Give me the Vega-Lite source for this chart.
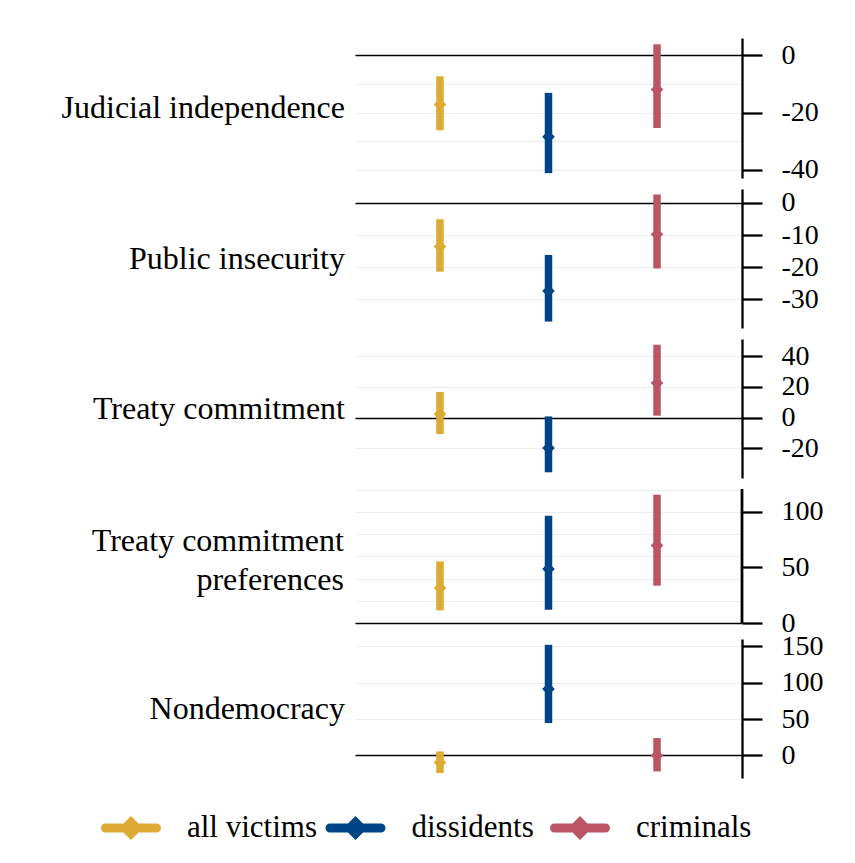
{
  "$schema": "https://vega.github.io/schema/vega-lite/v6.json",
  "background": "white",
  "padding": {"left": 61, "top": 38, "right": 5, "bottom": 0},
  "bounds": "flush",
  "spacing": 11,
  "data": {
    "values": [
      {"panel": "Judicial independence", "group": "all victims", "est": -17.2, "lo": -26.2, "hi": -7.3},
      {"panel": "Judicial independence", "group": "dissidents", "est": -28.5, "lo": -41.2, "hi": -13.1},
      {"panel": "Judicial independence", "group": "criminals", "est": -11.9, "lo": -25.4, "hi": 3.9},
      {"panel": "Public insecurity", "group": "all victims", "est": -13.6, "lo": -21.4, "hi": -5.1},
      {"panel": "Public insecurity", "group": "dissidents", "est": -27.4, "lo": -36.9, "hi": -16.2},
      {"panel": "Public insecurity", "group": "criminals", "est": -9.8, "lo": -20.4, "hi": 2.6},
      {"panel": "Treaty commitment", "group": "all victims", "est": 2.4, "lo": -10.6, "hi": 16.7},
      {"panel": "Treaty commitment", "group": "dissidents", "est": -19.7, "lo": -35.5, "hi": 0.8},
      {"panel": "Treaty commitment", "group": "criminals", "est": 22.5, "lo": 1.3, "hi": 47.4},
      {"panel": "Treaty commitment preferences", "group": "all victims", "est": 31.5, "lo": 11.4, "hi": 55.5},
      {"panel": "Treaty commitment preferences", "group": "dissidents", "est": 48.6, "lo": 12.0, "hi": 96.7},
      {"panel": "Treaty commitment preferences", "group": "criminals", "est": 69.9, "lo": 33.6, "hi": 115.6},
      {"panel": "Nondemocracy", "group": "all victims", "est": -9.6, "lo": -24.2, "hi": 5.5},
      {"panel": "Nondemocracy", "group": "dissidents", "est": 91.2, "lo": 44.5, "hi": 152},
      {"panel": "Nondemocracy", "group": "criminals", "est": 0, "lo": -22, "hi": 23.9}
    ]
  },
  "vconcat": [
    {
      "width": 387, "height": 140,
      "title": {"text": "Judicial independence", "orient": "left", "angle": 0, "align": "left", "baseline": "middle", "anchor": "middle", "frame": "group", "offset": 10},
      "transform": [{"filter": "datum.panel === 'Judicial independence'"}],
      "layer": [
        {
          "mark": {"type": "rule", "strokeWidth": 7.5},
          "encoding": {
            "x": {"field": "group", "type": "nominal", "sort": ["all victims", "dissidents", "criminals"], "scale": {"type": "point", "padding": 0.783}, "axis": null},
            "y": {"field": "lo", "type": "quantitative", "title": null},
            "y2": {"field": "hi"},
            "color": {"field": "group", "type": "nominal", "scale": {"domain": ["all victims", "dissidents", "criminals"], "range": ["#DDAA33", "#004488", "#BB5566"]}, "legend": null}
          }
        },
        {
          "mark": {"type": "point", "shape": "diamond", "filled": true, "size": 160, "opacity": 1},
          "encoding": {
            "x": {"field": "group", "type": "nominal", "sort": ["all victims", "dissidents", "criminals"], "axis": null},
            "y": {
              "field": "est", "type": "quantitative", "title": null,
              "scale": {"domain": [-42.9, 6.1], "nice": false, "zero": false},
              "axis": {
                "orient": "right", "title": null, "labelOverlap": false, "tickCount": 50,
                "values": [-40, -30, -20, -10, 0],
                "labelExpr": "datum.value % 20 === 0 ? toString(datum.value) : ''",
                "tickOpacity": {"condition": {"test": "datum.value % 20 !== 0", "value": 0}, "value": 1},
                "gridColor": {"condition": {"test": "datum.value === 0", "value": "black"}, "value": "#ececec"},
                "gridWidth": {"condition": {"test": "datum.value === 0", "value": 1.5}, "value": 1}
              }
            },
            "color": {"field": "group", "type": "nominal", "legend": null}
          }
        }
      ]
    },
    {
      "width": 387, "height": 139,
      "title": {"text": "Public insecurity", "orient": "left", "angle": 0, "align": "left", "baseline": "middle", "anchor": "middle", "frame": "group", "offset": 10},
      "transform": [{"filter": "datum.panel === 'Public insecurity'"}],
      "layer": [
        {
          "mark": {"type": "rule", "strokeWidth": 7.5},
          "encoding": {
            "x": {"field": "group", "type": "nominal", "sort": ["all victims", "dissidents", "criminals"], "scale": {"type": "point", "padding": 0.783}, "axis": null},
            "y": {"field": "lo", "type": "quantitative", "title": null},
            "y2": {"field": "hi"},
            "color": {"field": "group", "type": "nominal", "legend": null}
          }
        },
        {
          "mark": {"type": "point", "shape": "diamond", "filled": true, "size": 160, "opacity": 1},
          "encoding": {
            "x": {"field": "group", "type": "nominal", "sort": ["all victims", "dissidents", "criminals"], "axis": null},
            "y": {
              "field": "est", "type": "quantitative", "title": null,
              "scale": {"domain": [-38.9, 4.3], "nice": false, "zero": false},
              "axis": {
                "orient": "right", "title": null, "labelOverlap": false, "tickCount": 50,
                "values": [-30, -20, -10, 0],
                "labelExpr": "toString(datum.value)",
                "gridColor": {"condition": {"test": "datum.value === 0", "value": "black"}, "value": "#ececec"},
                "gridWidth": {"condition": {"test": "datum.value === 0", "value": 1.5}, "value": 1}
              }
            },
            "color": {"field": "group", "type": "nominal", "legend": null}
          }
        }
      ]
    },
    {
      "width": 387, "height": 139,
      "title": {"text": "Treaty commitment", "orient": "left", "angle": 0, "align": "left", "baseline": "middle", "anchor": "middle", "frame": "group", "offset": 10},
      "transform": [{"filter": "datum.panel === 'Treaty commitment'"}],
      "layer": [
        {
          "mark": {"type": "rule", "strokeWidth": 7.5},
          "encoding": {
            "x": {"field": "group", "type": "nominal", "sort": ["all victims", "dissidents", "criminals"], "scale": {"type": "point", "padding": 0.783}, "axis": null},
            "y": {"field": "lo", "type": "quantitative", "title": null},
            "y2": {"field": "hi"},
            "color": {"field": "group", "type": "nominal", "legend": null}
          }
        },
        {
          "mark": {"type": "point", "shape": "diamond", "filled": true, "size": 160, "opacity": 1},
          "encoding": {
            "x": {"field": "group", "type": "nominal", "sort": ["all victims", "dissidents", "criminals"], "axis": null},
            "y": {
              "field": "est", "type": "quantitative", "title": null,
              "scale": {"domain": [-39.2, 51.1], "nice": false, "zero": false},
              "axis": {
                "orient": "right", "title": null, "labelOverlap": false, "tickCount": 50,
                "values": [-20, 0, 20, 40],
                "labelExpr": "toString(datum.value)",
                "gridColor": {"condition": {"test": "datum.value === 0", "value": "black"}, "value": "#ececec"},
                "gridWidth": {"condition": {"test": "datum.value === 0", "value": 1.5}, "value": 1}
              }
            },
            "color": {"field": "group", "type": "nominal", "legend": null}
          }
        }
      ]
    },
    {
      "width": 387, "height": 139,
      "title": {"text": ["Treaty commitment", "preferences"], "orient": "left", "angle": 0, "align": "right", "dx": 251, "baseline": "middle", "anchor": "middle", "frame": "group", "offset": 10, "lineHeight": 39, "dy": -18},
      "transform": [{"filter": "datum.panel === 'Treaty commitment preferences'"}],
      "layer": [
        {
          "mark": {"type": "rule", "color": "black", "strokeWidth": 2.3},
          "encoding": {
            "x": {"value": "width"},
            "y": {"datum": 0, "type": "quantitative", "title": null},
            "y2": {"datum": 120.7}
          }
        },
        {
          "mark": {"type": "rule", "strokeWidth": 7.5},
          "encoding": {
            "x": {"field": "group", "type": "nominal", "sort": ["all victims", "dissidents", "criminals"], "scale": {"type": "point", "padding": 0.783}, "axis": null},
            "y": {"field": "lo", "type": "quantitative", "title": null},
            "y2": {"field": "hi"},
            "color": {"field": "group", "type": "nominal", "legend": null}
          }
        },
        {
          "mark": {"type": "point", "shape": "diamond", "filled": true, "size": 160, "opacity": 1},
          "encoding": {
            "x": {"field": "group", "type": "nominal", "sort": ["all victims", "dissidents", "criminals"], "axis": null},
            "y": {
              "field": "est", "type": "quantitative", "title": null,
              "scale": {"domain": [-4.5, 120.7], "nice": false, "zero": false},
              "axis": {
                "orient": "right", "title": null, "domain": false, "labelOverlap": false, "tickCount": 50,
                "values": [0, 20, 40, 50, 60, 80, 100, 120],
                "labelExpr": "datum.value === 0 || datum.value === 50 || datum.value === 100 ? toString(datum.value) : ''",
                "tickOpacity": {"condition": {"test": "datum.value === 0 || datum.value === 50 || datum.value === 100", "value": 1}, "value": 0},
                "gridColor": {"condition": [{"test": "datum.value === 0", "value": "black"}, {"test": "datum.value === 50", "value": "transparent"}], "value": "#ececec"},
                "gridWidth": {"condition": {"test": "datum.value === 0", "value": 1.5}, "value": 1}
              }
            },
            "color": {"field": "group", "type": "nominal", "legend": null}
          }
        }
      ]
    },
    {
      "width": 387, "height": 139,
      "title": {"text": "Nondemocracy", "orient": "left", "angle": 0, "align": "left", "baseline": "middle", "anchor": "middle", "frame": "group", "offset": 10},
      "transform": [{"filter": "datum.panel === 'Nondemocracy'"}],
      "layer": [
        {
          "mark": {"type": "rule", "strokeWidth": 7.5},
          "encoding": {
            "x": {"field": "group", "type": "nominal", "sort": ["all victims", "dissidents", "criminals"], "scale": {"type": "point", "padding": 0.783}, "axis": null},
            "y": {"field": "lo", "type": "quantitative", "title": null},
            "y2": {"field": "hi"},
            "color": {"field": "group", "type": "nominal", "legend": null}
          }
        },
        {
          "mark": {"type": "point", "shape": "diamond", "filled": true, "size": 160, "opacity": 1},
          "encoding": {
            "x": {"field": "group", "type": "nominal", "sort": ["all victims", "dissidents", "criminals"], "axis": null},
            "y": {
              "field": "est", "type": "quantitative", "title": null,
              "scale": {"domain": [-31, 160], "nice": false, "zero": false},
              "axis": {
                "orient": "right", "title": null, "labelOverlap": false, "tickCount": 50,
                "values": [0, 50, 100, 150],
                "labelExpr": "toString(datum.value)",
                "gridColor": {"condition": {"test": "datum.value === 0", "value": "black"}, "value": "#ececec"},
                "gridWidth": {"condition": {"test": "datum.value === 0", "value": 1.5}, "value": 1}
              }
            },
            "color": {"field": "group", "type": "nominal", "legend": null}
          }
        }
      ]
    },
    {
      "width": 449, "height": 72,
      "transform": [{"filter": "datum.panel === 'Nondemocracy'"}],
      "layer": [
        {
          "mark": {
            "type": "point", "filled": true, "opacity": 1, "size": 3600, "xOffset": -224, "yOffset": 3,
            "shape": "M-0.85,-0.15 L-0.25,-0.15 L0,-0.4 L0.25,-0.15 L0.85,-0.15 A0.15,0.15 0 0 1 0.85,0.15 L0.25,0.15 L0,0.4 L-0.25,0.15 L-0.85,0.15 A0.15,0.15 0 0 1 -0.85,-0.15 Z"
          },
          "encoding": {
            "x": {"field": "group", "type": "nominal", "sort": ["all victims", "dissidents", "criminals"], "scale": {"type": "point", "padding": 0}, "axis": null},
            "color": {"field": "group", "type": "nominal", "legend": null}
          }
        },
        {
          "mark": {"type": "text", "align": "left", "baseline": "middle", "font": "Liberation Serif", "fontSize": 31, "color": "black", "dx": 56, "xOffset": -224, "yOffset": 3},
          "encoding": {
            "x": {"field": "group", "type": "nominal", "sort": ["all victims", "dissidents", "criminals"], "axis": null},
            "text": {"field": "group"}
          }
        }
      ]
    }
  ],
  "config": {
    "view": {"stroke": null},
    "font": "Liberation Serif",
    "title": {"font": "Liberation Serif", "fontSize": 32, "fontWeight": "normal", "color": "black"},
    "axis": {
      "grid": true,
      "gridColor": "#ececec",
      "domainColor": "black",
      "domainWidth": 2.3,
      "tickColor": "black",
      "tickWidth": 2.3,
      "tickSize": 20,
      "labelPadding": 19,
      "labelFont": "Liberation Serif",
      "labelFontSize": 28,
      "labelColor": "black",
      "labelOverlap": false,
      "labelBound": false
    }
  }
}
